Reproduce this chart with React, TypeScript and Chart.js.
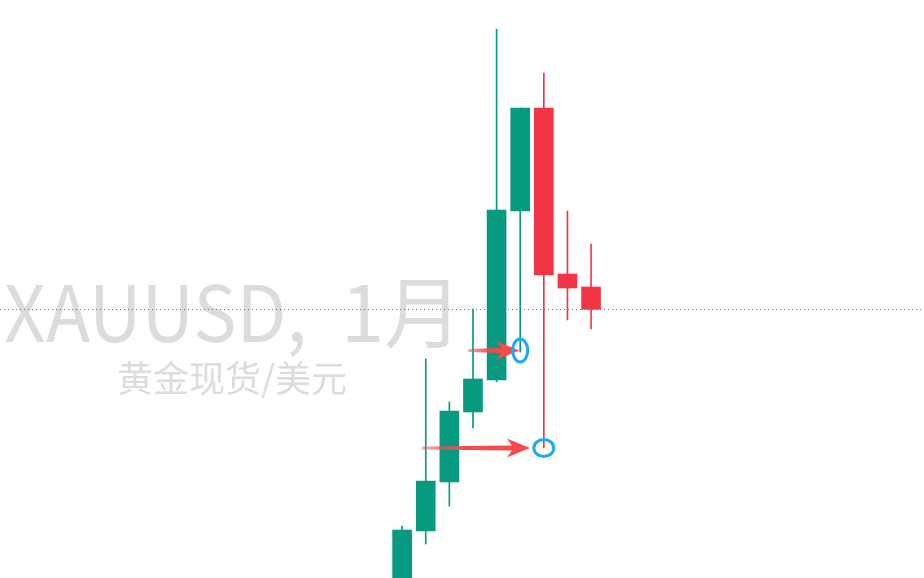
import React, { useEffect, useRef } from 'react';
import { Chart, registerables } from 'chart.js';

Chart.register(...registerables);

// Monthly candles (slot index on the time axis)
const slots = [0, 1, 2, 3, 4, 5, 6, 7, 8];
const opens = [1734, 1941, 2088, 2298, 2394, 2901, 3210, 2712, 2673];
const highs = [1956, 2457, 2328, 2607, 3447, 3210, 3315, 2901, 2802];
const lows = [1704, 1902, 2016, 2250, 2388, 2478, 2190, 2574, 2547];
const closes = [1944, 2091, 2301, 2397, 2904, 3210, 2709, 2670, 2606];

// Candles whose lows are marked with an arrow + ellipse
const markedSlots = [5, 6];

const watermarkSymbol = 'XAUUSD,';
const watermarkInterval = '1月';
const watermarkSub = '黄金现货/美元';

const UP = '#089981';
const DOWN = '#F23645';

const markStyles = [
  { tailOff: -52, tipOff: -1, rx: 7.5, ry: 11.5, dy: -1.5 },
  { tailOff: -122, tipOff: -14, rx: 10, ry: 8.5, dy: 0 },
];

function drawArrow(ctx: CanvasRenderingContext2D, x0: number, y: number, x1: number) {
  const headLen = 23;
  const headHalf = 9.5;
  const hb = x1 - headLen;
  const grad = ctx.createLinearGradient(x0, 0, x1, 0);
  grad.addColorStop(0, 'rgba(244,76,76,0.45)');
  grad.addColorStop(0.4, 'rgba(244,76,76,1)');
  grad.addColorStop(1, 'rgba(244,76,76,1)');
  ctx.fillStyle = grad;
  ctx.beginPath();
  ctx.moveTo(x0, y - 1.4);
  ctx.lineTo(hb + 5, y - 2.5);
  ctx.lineTo(hb, y - headHalf);
  ctx.lineTo(x1, y);
  ctx.lineTo(hb, y + headHalf);
  ctx.lineTo(hb + 5, y + 2.5);
  ctx.lineTo(x0, y + 1.4);
  ctx.closePath();
  ctx.fill();
}

function fillAtGlyphLeft(
  ctx: CanvasRenderingContext2D,
  text: string,
  left: number,
  baseline: number,
  squeeze = 1
) {
  const m = ctx.measureText(text);
  ctx.save();
  ctx.translate(left, baseline);
  ctx.scale(squeeze, 1);
  ctx.fillText(text, m.actualBoundingBoxLeft, 0);
  ctx.restore();
}

const overlayPlugin = {
  id: 'overlay',
  beforeDatasetsDraw(chart: any) {
    const { ctx, chartArea, scales } = chart;
    ctx.save();
    ctx.fillStyle = '#DCDCDE';
    ctx.textBaseline = 'alphabetic';
    ctx.textAlign = 'left';
    ctx.font = '78px "Noto Sans CJK SC"';
    fillAtGlyphLeft(ctx, watermarkSymbol, 5, 342, 0.933);
    fillAtGlyphLeft(ctx, watermarkInterval, 347, 342);
    ctx.font = '36px "Noto Sans CJK SC"';
    fillAtGlyphLeft(ctx, watermarkSub, 118, 392);

    const py = Math.round(scales.y.getPixelForValue(closes[closes.length - 1])) + 0.5;
    ctx.strokeStyle = DOWN;
    ctx.lineWidth = 1;
    ctx.setLineDash([1, 3]);
    ctx.beginPath();
    ctx.moveTo(chartArea.left, py);
    ctx.lineTo(chartArea.right, py);
    ctx.stroke();
    ctx.restore();
  },
  afterDatasetsDraw(chart: any) {
    const { ctx, scales } = chart;
    ctx.save();
    markedSlots.forEach((k, i) => {
      const s = markStyles[i];
      const cx = scales.x.getPixelForValue(slots[k]);
      const cy = scales.y.getPixelForValue(lows[k]) + s.dy;
      drawArrow(ctx, cx + s.tailOff, cy, cx + s.tipOff);
      ctx.strokeStyle = '#1DA9F3';
      ctx.lineWidth = 3;
      ctx.beginPath();
      ctx.ellipse(cx, cy, s.rx, s.ry, 0, 0, Math.PI * 2);
      ctx.stroke();
    });
    ctx.restore();
  },
};

export default function App() {
  const ref = useRef<HTMLCanvasElement | null>(null);

  useEffect(() => {
    document.body.style.margin = '0';
    if (!ref.current) return;
    const colors = slots.map((_, i) => (closes[i] >= opens[i] ? UP : DOWN));
    const chart = new Chart(ref.current, {
      type: 'bar',
      data: {
        datasets: [
          {
            label: 'body',
            data: slots.map((x, i) => ({ x, y: [opens[i], closes[i]] })) as any,
            backgroundColor: colors,
            borderWidth: 0,
            barThickness: 19,
            grouped: false,
            order: 0,
          },
          {
            label: 'wick',
            data: slots.map((x, i) => ({ x, y: [lows[i], highs[i]] })) as any,
            backgroundColor: colors,
            borderWidth: 0,
            barThickness: 1,
            grouped: false,
            order: 1,
          },
        ],
      },
      options: {
        animation: false,
        responsive: true,
        maintainAspectRatio: false,
        layout: { padding: 0 },
        plugins: { legend: { display: false }, tooltip: { enabled: false } },
        scales: {
          x: { type: 'linear', min: -17.03, max: 22.1, offset: false, display: false },
          y: { type: 'linear', min: 1800, max: 3534, display: false },
        },
      },
      plugins: [overlayPlugin],
    });
    return () => chart.destroy();
  }, []);

  return (
    <div style={{ width: 924, height: 578, position: 'relative', background: '#fff' }}>
      <canvas ref={ref} />
    </div>
  );
}
